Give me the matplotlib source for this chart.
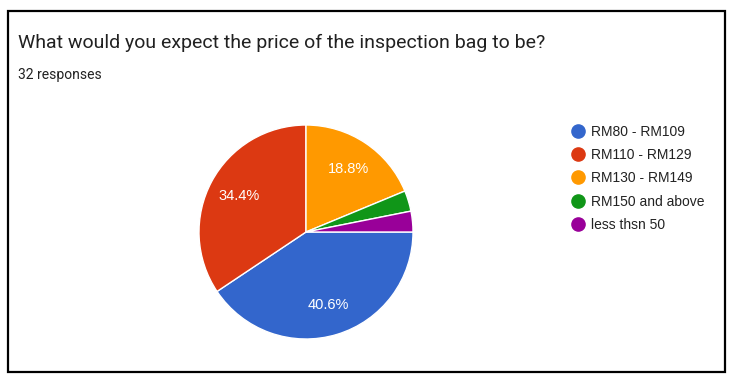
import matplotlib.pyplot as plt
from matplotlib.lines import Line2D
from matplotlib.patches import Rectangle

# price brackets and how many of the 32 picked each
labels = ['RM80 - RM109', 'RM110 - RM129', 'RM130 - RM149', 'RM150 and above', 'less thsn 50']
counts = [13, 11, 6, 1, 1]
colors = ['#3366cc', '#dc3912', '#ff9900', '#109618', '#990099']

title = 'What would you expect the price of the inspection bag to be?'
subtitle = '32 responses'

W, H = 732, 377
fig = plt.figure(figsize=(W / 100, H / 100), dpi=100)
fig.patch.set_facecolor('white')

# card border
fig.patches.append(Rectangle((8 / W, 1 - 372 / H), 717 / W, 361 / H,
                             transform=fig.transFigure, fill=False,
                             edgecolor='black', linewidth=1.6))

fig.text(18 / W, 1 - 48 / H, title, family='Roboto', fontsize=14,
         color='#212121', va='baseline', ha='left')
fig.text(18 / W, 1 - 79 / H, subtitle, family='Roboto', fontsize=10,
         color='#212121', va='baseline', ha='left')

# pie centred at (306, 232) px, radius 107 px
r = 107
ax = fig.add_axes([(306 - r) / W, 1 - (232 + r) / H, 2 * r / W, 2 * r / H])


def pct(p):
    return f'{p:.1f}%' if p > 5 else ''


wedges, texts, autotexts = ax.pie(
    counts, colors=colors, startangle=0, counterclock=False,
    autopct=pct, pctdistance=0.71, radius=1,
    wedgeprops=dict(edgecolor='white', linewidth=1))
for t in autotexts:
    t.set_color('white')
    t.set_fontsize(10.5)
    t.set_family('Liberation Sans')
ax.set_xlim(-1, 1)
ax.set_ylim(-1, 1)
ax.set_aspect('equal')
ax.axis('off')

handles = [Line2D([], [], marker='o', linestyle='', markersize=9.5,
                  markerfacecolor=c, markeredgecolor=c) for c in colors]
fig.legend(handles, labels, loc='upper left',
           bbox_to_anchor=(572 / W, 1 - 125 / H), frameon=False,
           prop=dict(family='Liberation Sans', size=10),
           labelcolor='#222222', handlelength=0.9, handletextpad=0.45,
           labelspacing=0.66, borderpad=0, borderaxespad=0)

fig.savefig('out.png', dpi=100)
